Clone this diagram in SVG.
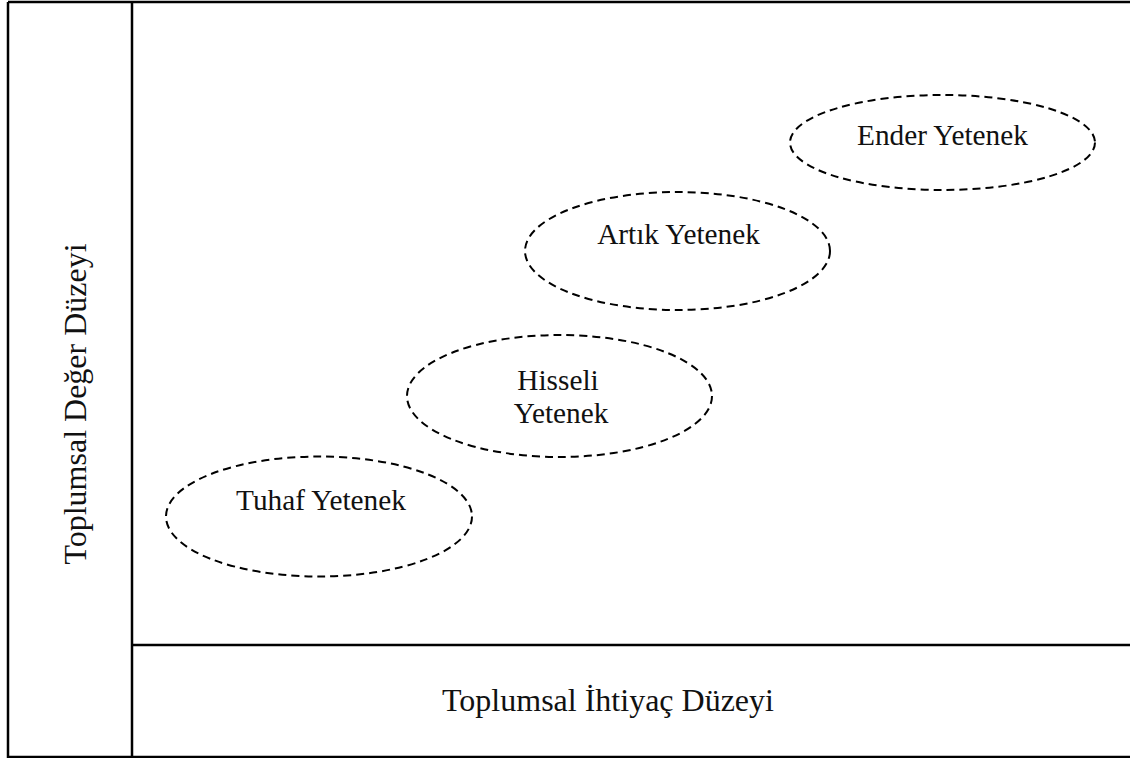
<svg xmlns="http://www.w3.org/2000/svg" width="1130" height="758" viewBox="0 0 1130 758">
<style>
.frame{fill:none;stroke:#000;stroke-width:2.5}
.ell{fill:none;stroke:#000;stroke-width:2;stroke-dasharray:8 5}
.t{font-family:"Liberation Serif","Times New Roman",serif;font-size:29.3px;fill:#111;text-anchor:middle}
.ax{font-family:"Liberation Serif","Times New Roman",serif;font-size:32px;fill:#111;text-anchor:middle}
</style>
<rect width="1130" height="758" fill="#fff"/>
<g id="frame">
<path class="frame" d="M8,2 H1132 M8,2 V757 H1132 M132,2 V757 M132,645 H1132"/>
</g>
<g id="axis-y"><text class="ax" transform="translate(86,404) rotate(-90)">Toplumsal Değer Düzeyi</text></g>
<g id="axis-x"><text class="ax" x="608" y="711">Toplumsal İhtiyaç Düzeyi</text></g>
<g id="connectors"></g>
<g id="tuhaf">
<ellipse class="ell" cx="319" cy="516.5" rx="153" ry="60"/>
<text class="t" x="321" y="510">Tuhaf Yetenek</text>
</g>
<g id="hisseli">
<ellipse class="ell" cx="559.5" cy="396" rx="152.5" ry="61"/>
<text class="t" x="558" y="390">Hisseli</text>
<text class="t" x="561" y="423">Yetenek</text>
</g>
<g id="artik">
<ellipse class="ell" cx="677.5" cy="251" rx="152.5" ry="59"/>
<text class="t" x="678.5" y="244">Artık Yetenek</text>
</g>
<g id="ender">
<ellipse class="ell" cx="942.5" cy="142.5" rx="152.5" ry="47.5"/>
<text class="t" x="942.5" y="145">Ender Yetenek</text>
</g>
</svg>
